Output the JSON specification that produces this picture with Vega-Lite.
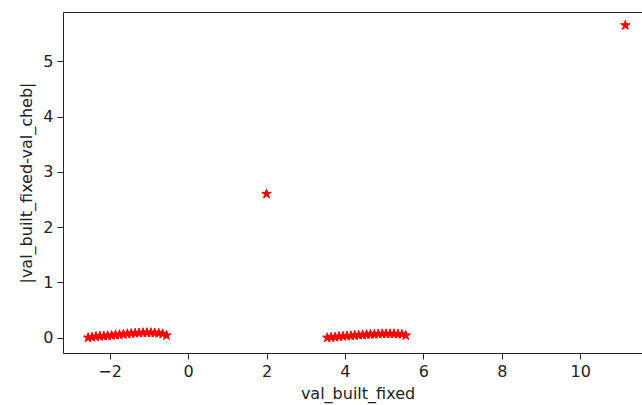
{
  "$schema": "https://vega.github.io/schema/vega-lite/v6.json",
  "width": 589,
  "height": 341,
  "autosize": {"type": "none"},
  "padding": {"left": 63, "top": 12, "right": 0, "bottom": 52},
  "background": "white",
  "config": {
    "view": {"stroke": "#222", "strokeWidth": 1},
    "axis": {
      "domain": false,
      "grid": false,
      "tickColor": "#222",
      "tickSize": 6,
      "tickWidth": 1,
      "labelFont": "DejaVu Sans",
      "labelFontSize": 16,
      "labelColor": "#222",
      "labelPadding": 4,
      "titleFont": "DejaVu Sans",
      "titleFontSize": 16,
      "titleFontWeight": "normal",
      "titleColor": "#222"
    }
  },
  "data": {
    "values": [
      {"x": -2.55, "y": 0.0}, {"x": -2.45, "y": 0.01}, {"x": -2.35, "y": 0.02}, {"x": -2.25, "y": 0.025},
      {"x": -2.15, "y": 0.03}, {"x": -2.05, "y": 0.035}, {"x": -1.95, "y": 0.04}, {"x": -1.85, "y": 0.05},
      {"x": -1.75, "y": 0.055}, {"x": -1.65, "y": 0.06}, {"x": -1.55, "y": 0.07}, {"x": -1.45, "y": 0.075},
      {"x": -1.35, "y": 0.08}, {"x": -1.25, "y": 0.085}, {"x": -1.15, "y": 0.09}, {"x": -1.05, "y": 0.09},
      {"x": -0.95, "y": 0.09}, {"x": -0.85, "y": 0.085}, {"x": -0.75, "y": 0.08}, {"x": -0.65, "y": 0.07},
      {"x": -0.55, "y": 0.04},
      {"x": 2.0, "y": 2.6},
      {"x": 3.55, "y": 0.0}, {"x": 3.65, "y": 0.005}, {"x": 3.75, "y": 0.01}, {"x": 3.85, "y": 0.02},
      {"x": 3.95, "y": 0.025}, {"x": 4.05, "y": 0.03}, {"x": 4.15, "y": 0.035}, {"x": 4.25, "y": 0.04},
      {"x": 4.35, "y": 0.045}, {"x": 4.45, "y": 0.05}, {"x": 4.55, "y": 0.055}, {"x": 4.65, "y": 0.06},
      {"x": 4.75, "y": 0.06}, {"x": 4.85, "y": 0.065}, {"x": 4.95, "y": 0.07}, {"x": 5.05, "y": 0.07},
      {"x": 5.15, "y": 0.07}, {"x": 5.25, "y": 0.07}, {"x": 5.35, "y": 0.065}, {"x": 5.45, "y": 0.06},
      {"x": 5.55, "y": 0.04},
      {"x": 11.15, "y": 5.65}
    ]
  },
  "mark": {
    "type": "point",
    "filled": true,
    "fill": "#ff0000",
    "stroke": "#ff0000",
    "strokeWidth": 1,
    "opacity": 1,
    "size": 100,
    "shape": "M0,-1L0.2245,-0.309L0.9511,-0.309L0.3633,0.118L0.5878,0.809L0,0.382L-0.5878,0.809L-0.3633,0.118L-0.9511,-0.309L-0.2245,-0.309Z"
  },
  "encoding": {
    "x": {
      "field": "x",
      "type": "quantitative",
      "title": "val_built_fixed",
      "scale": {"domain": [-3.19, 11.83], "nice": false, "zero": false},
      "axis": {"values": [-2, 0, 2, 4, 6, 8, 10], "titlePadding": 6, "format": "d"}
    },
    "y": {
      "field": "y",
      "type": "quantitative",
      "title": "|val_built_fixed-val_cheb|",
      "scale": {"domain": [-0.277, 5.89], "nice": false, "zero": false},
      "axis": {"values": [0, 1, 2, 3, 4, 5], "titlePadding": 8, "format": "d"}
    }
  }
}
